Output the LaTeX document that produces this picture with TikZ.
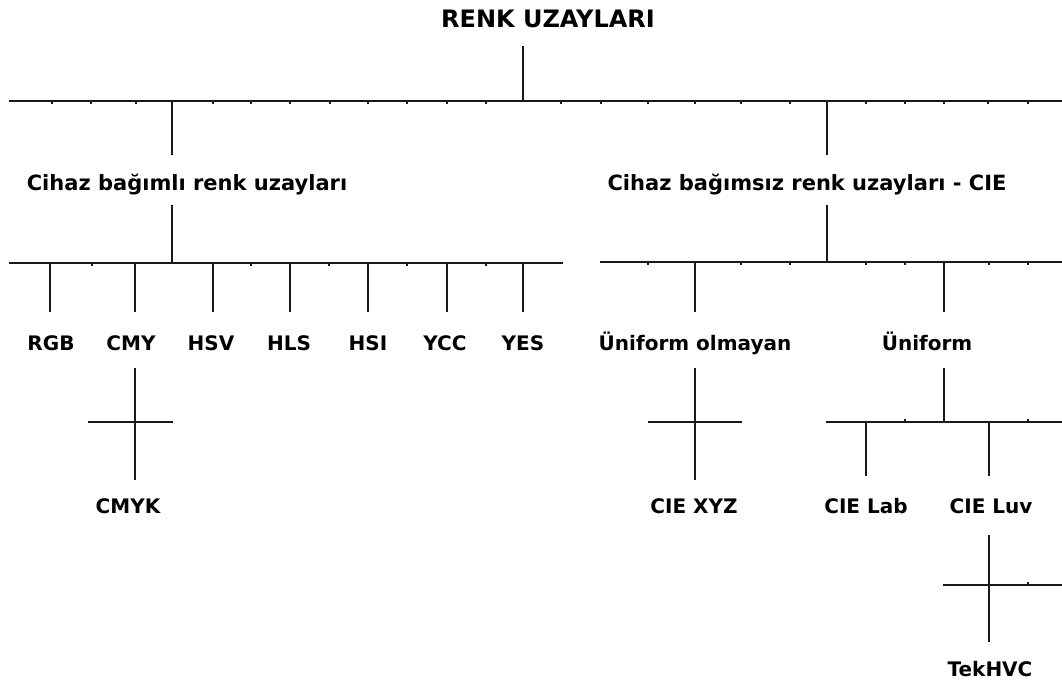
\documentclass[tikz,border=0pt]{standalone}
\usepackage{fontspec}
\setmainfont{DejaVu Sans}
\begin{document}
\begin{tikzpicture}[x=1pt,y=-1pt,
  bar/.style={line width=1.8pt, draw=black!90},
  tickmark/.style={line width=2.4pt, draw=black!90},
  lbl/.style={font=\bfseries\fontsize{20}{24}\selectfont, text=black, inner sep=0pt, anchor=base},
  head/.style={lbl, font=\bfseries\fontsize{21}{25}\selectfont},
  ttl/.style={lbl, font=\bfseries\fontsize{24}{28}\selectfont}]
\useasboundingbox (0,0) rectangle (1062,686);

% ---- labels ----
\node[ttl] (root) at (548,27) {RENK UZAYLARI};
\node[head] (dep)   at (187,190) {Cihaz bağımlı renk uzayları};
\node[head] (indep) at (807,190) {Cihaz bağımsız renk uzayları - CIE};
\node[lbl] (rgb) at (51,350)  {RGB};
\node[lbl] (cmy) at (131,350) {CMY};
\node[lbl] (hsv) at (211,350) {HSV};
\node[lbl] (hls) at (289,350) {HLS};
\node[lbl] (hsi) at (368,350) {HSI};
\node[lbl] (ycc) at (445,350) {YCC};
\node[lbl] (yes) at (523,350) {YES};
\node[lbl] (nonu) at (695,350) {Üniform olmayan};
\node[lbl] (unif) at (927,350) {Üniform};
\node[lbl] (cmyk) at (128,513) {CMYK};
\node[lbl] (xyz)  at (694,513) {CIE XYZ};
\node[lbl] (lab)  at (866,513) {CIE Lab};
\node[lbl] (luv)  at (991,513) {CIE Luv};
\node[lbl] (tek)  at (990,676) {TekHVC};

% ---- junction points ----
\coordinate (rootLow) at (523,46);
\coordinate (rootBar) at (523,101);
\coordinate (topL) at (9,101);
\coordinate (topR) at (1062,101);
\coordinate (depTop) at (172,101);   \coordinate (depUp) at (172,155);
\coordinate (indTop) at (827,101);   \coordinate (indUp) at (827,155);
\coordinate (depLow) at (172,205);   \coordinate (depBar) at (172,263);
\coordinate (indLow) at (827,205);   \coordinate (indBar) at (827,262);
\coordinate (barAL) at (9,263);      \coordinate (barAR) at (563,263);
\coordinate (barBL) at (600,262);    \coordinate (barBR) at (1062,262);

% ---- rulers and trunks ----
\draw[bar] (rootLow) -- (rootBar);
\draw[bar] (topL) -- (topR);
\draw[bar] (depTop) -- (depUp);
\draw[bar] (indTop) -- (indUp);
\draw[bar] (depLow) -- (depBar);
\draw[bar] (indLow) -- (indBar);
\draw[bar] (barAL) -- (barAR);
\draw[bar] (barBL) -- (barBR);

\foreach \x in {52,91,136,213,251,290,330,368,407,447,486,561,601,648,695,741,790,866,905,944,988,1028}
  \draw[tickmark] (\x,101) -- ++(0,3);
\foreach \x in {92,251,329,407,486}
  \draw[tickmark] (\x,263) -- ++(0,3);
\foreach \x in {648,741,790,866,905,989,1028}
  \draw[tickmark] (\x,262) -- ++(0,3);

% ---- drops to the device dependent spaces ----
\foreach \x in {50,135,213,290,368,447,523}
  \draw[bar] (\x,263) -- (\x,312);
% ---- drops to the CIE groups ----
\draw[bar] (695,262) -- (695,312);
\draw[bar] (944,262) -- (944,312);

% ---- CMY -> CMYK ----
\coordinate (cmyA) at (135,368); \coordinate (cmyB) at (135,480);
\coordinate (cmyL) at (88,422);  \coordinate (cmyR) at (173,422);
\draw[bar] (cmyA) -- (cmyB);
\draw[bar] (cmyL) -- (cmyR);

% ---- non-uniform -> CIE XYZ ----
\coordinate (nuA) at (695,368); \coordinate (nuB) at (695,480);
\coordinate (nuL) at (648,422); \coordinate (nuR) at (742,422);
\draw[bar] (nuA) -- (nuB);
\draw[bar] (nuL) -- (nuR);

% ---- uniform -> CIE Lab, CIE Luv ----
\coordinate (uA) at (944,368); \coordinate (uB) at (944,422);
\coordinate (uL) at (826,422); \coordinate (uR) at (1062,422);
\draw[bar] (uA) -- (uB);
\draw[bar] (uL) -- (uR);
\draw[bar] (866,422) -- (866,476);
\draw[bar] (989,422) -- (989,476);
\foreach \x in {905,1028}
  \draw[tickmark] (\x,422) -- ++(0,-3);

% ---- CIE Luv -> TekHVC ----
\coordinate (lvA) at (989,535); \coordinate (lvB) at (989,642);
\coordinate (lvL) at (943,585); \coordinate (lvR) at (1062,585);
\draw[bar] (lvA) -- (lvB);
\draw[bar] (lvL) -- (lvR);
\draw[tickmark] (1028,585) -- ++(0,-3);
\end{tikzpicture}
\end{document}
